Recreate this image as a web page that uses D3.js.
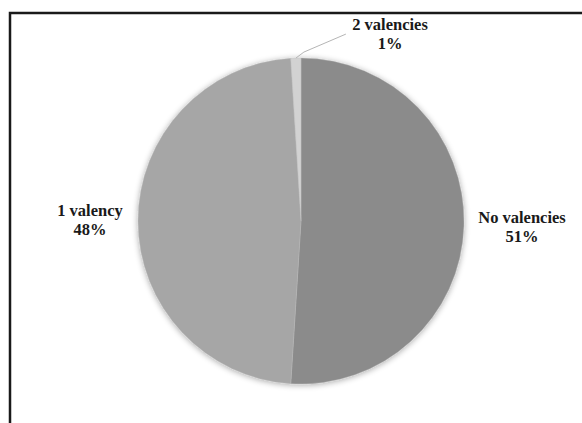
<!DOCTYPE html>
<html>
<head>
<meta charset="utf-8">
<script src="https://cdn.jsdelivr.net/npm/d3@7"></script>
<style>
  body { margin: 0; background: #fff; }
  svg { display: block; }
  .lbl { font-family: "Liberation Serif", "Times New Roman", serif; font-weight: bold; font-size: 16.5px; fill: #1a1a1a; }
</style>
</head>
<body>
<div id="chart"></div>
<script>
var chart_width  = 582;
var chart_height = 423;

// data
var categories = ["No valencies", "1 valency", "2 valencies"];
var values     = [51, 48, 1];
var colors     = ["#8b8b8b", "#a6a6a6", "#d2d2d2"];

var cx = 301, cy = 221, radius = 163;

var svg = d3.select("#chart")
    .append("svg")
    .attr("width", chart_width)
    .attr("height", chart_height);

// soft shadow
var defs = svg.append("defs");
var f = defs.append("filter")
    .attr("id", "shadow")
    .attr("x", "-20%").attr("y", "-20%")
    .attr("width", "140%").attr("height", "140%");
f.append("feGaussianBlur").attr("in", "SourceAlpha").attr("stdDeviation", 3).attr("result", "b");
f.append("feOffset").attr("in", "b").attr("dx", 0).attr("dy", 1).attr("result", "o");
f.append("feComponentTransfer").attr("in", "o").attr("result", "s")
  .append("feFuncA").attr("type", "linear").attr("slope", 0.35);
var m = f.append("feMerge");
m.append("feMergeNode").attr("in", "s");
m.append("feMergeNode").attr("in", "SourceGraphic");

// frame (cut off on the right and bottom)
svg.append("path")
  .attr("d", "M10," + chart_height + " L10,13 L" + chart_width + ",13")
  .attr("fill", "none")
  .attr("stroke", "#1a1a1a")
  .attr("stroke-width", 2.5);

var pie = d3.pie().sort(null).value(function(d){ return d; });
var arc = d3.arc().innerRadius(0).outerRadius(radius);
var arcs = pie(values);

var g = svg.append("g")
  .attr("transform", "translate(" + cx + "," + cy + ")");

g.append("g")
  .attr("filter", "url(#shadow)")
  .selectAll("path")
  .data(arcs)
  .enter()
  .append("path")
  .attr("d", arc)
  .attr("fill", function(d, i){ return colors[i]; })
  .attr("stroke", "#bdbdbd")
  .attr("stroke-width", 0.4);

// leader line for the small slice
var small = arcs[2];
var mid = (small.startAngle + small.endAngle) / 2;
var p0 = [Math.sin(mid) * radius, -Math.cos(mid) * radius];
g.append("polyline")
  .attr("points", [p0, [p0[0] + 8, p0[1] - 6], [p0[0] + 50, p0[1] - 24]].map(function(p){ return p.join(","); }).join(" "))
  .attr("fill", "none")
  .attr("stroke", "#b5b5b5")
  .attr("stroke-width", 1);

// labels
var labelPos = [[522, 223], [90, 216], [390, 30]];
var lineGap = 19;
arcs.forEach(function(d, i){
  var t = svg.append("text")
    .attr("class", "lbl")
    .attr("text-anchor", "middle")
    .attr("x", labelPos[i][0])
    .attr("y", labelPos[i][1]);
  t.append("tspan").attr("x", labelPos[i][0]).text(categories[i]);
  t.append("tspan").attr("x", labelPos[i][0]).attr("dy", lineGap).text(values[i] + "%");
});
</script>
</body>
</html>
